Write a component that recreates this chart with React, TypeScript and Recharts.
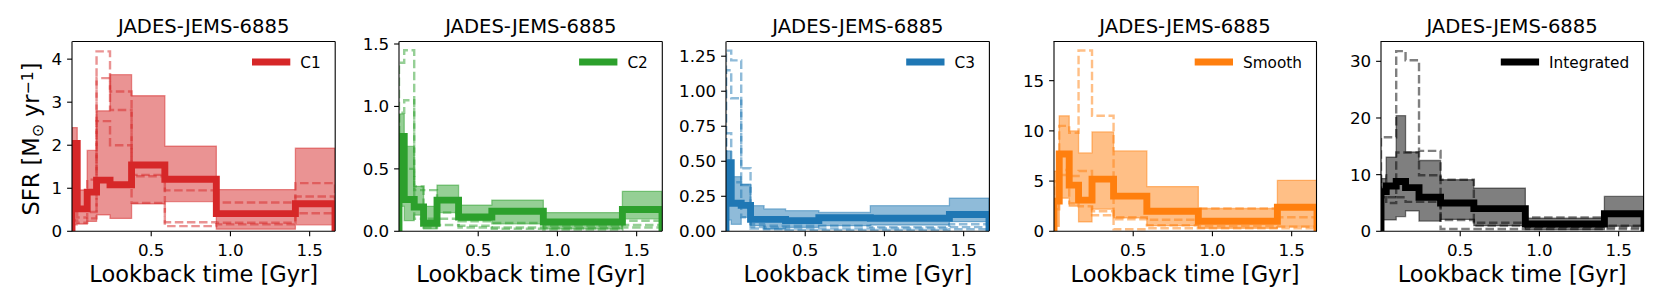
import React from 'react';
import { ComposedChart, Area, Line, XAxis, YAxis } from 'recharts';

// Bin edges of the star-formation history (lookback time, Gyr)
const edges = [0, 0.033, 0.096, 0.155, 0.24, 0.376, 0.586, 0.911, 1.41, 1.66];
const xTicks = [0.5, 1.0, 1.5];
const panelTitle = 'JADES-JEMS-6885';

// C1
const c1Median = [2.04, 0.52, 0.91, 1.19, 1.08, 1.54, 1.21, 0.41, 0.64];
const c1Lo = [0.15, 0.17, 0.23, 0.38, 0.3, 0.64, 0.69, 0.05, 0.15];
const c1Hi = [2.41, 0.96, 1.88, 2.8, 3.64, 3.15, 1.98, 0.97, 1.93];
const c1DashA = [1.0, 0.55, 1.2, 4.18, 3.25, 1.31, 0.95, 0.67, 1.12];
const c1DashB = [0.45, 0.32, 0.45, 3.56, 2.82, 1.28, 0.21, 0.2, 0.81];
const c1DashC = [0.25, 0.2, 0.3, 2.56, 2.0, 0.66, 0.12, 0.16, 0.42];
const c1Ticks = [0, 1, 2, 3, 4];

// C2
const c2Median = [0.76, 0.255, 0.195, 0.065, 0.25, 0.115, 0.16, 0.075, 0.175];
const c2Lo = [0.2, 0.085, 0.13, 0.02, 0.15, 0.085, 0.06, 0.02, 0.1];
const c2Hi = [0.94, 0.68, 0.36, 0.2, 0.37, 0.21, 0.25, 0.15, 0.32];
const c2DashA = [1.35, 1.45, 0.36, 0.33, 0.15, 0.08, 0.066, 0.04, 0.085];
const c2DashB = [0.95, 1.05, 0.33, 0.1, 0.1, 0.045, 0.03, 0.025, 0.05];
const c2DashC = [0.35, 0.5, 0.1, 0.03, 0.05, 0.03, 0.02, 0.015, 0.03];
const c2Ticks = [0, 0.5, 1.0, 1.5];

// C3
const c3Median = [0.49, 0.2, 0.185, 0.085, 0.085, 0.076, 0.097, 0.093, 0.12];
const c3Lo = [0.08, 0.05, 0.1, 0.04, 0.015, 0.028, 0.04, 0.045, 0.069];
const c3Hi = [0.574, 0.39, 0.337, 0.183, 0.16, 0.147, 0.135, 0.183, 0.237];
const c3DashA = [1.29, 1.22, 0.45, 0.05, 0.04, 0.04, 0.04, 0.03, 0.05];
const c3DashB = [1.15, 0.95, 0.33, 0.03, 0.025, 0.02, 0.02, 0.02, 0.03];
const c3DashC = [0.7, 0.35, 0.1, 0.02, 0.015, 0.01, 0.01, 0.01, 0.015];
const c3Ticks = [0, 0.25, 0.5, 0.75, 1.0, 1.25];

// Smooth
const smMedian = [3.0, 7.7, 4.6, 3.1, 5.2, 3.5, 2.0, 1.0, 2.4];
const smLo = [0.5, 3.3, 2.5, 0.93, 2.2, 1.35, 0.56, 0.3, 0.5];
const smHi = [6.0, 11.5, 10.0, 7.8, 9.9, 8.0, 4.45, 2.27, 5.08];
const smDashA = [5.0, 10.5, 9.8, 18.0, 11.5, 1.4, 1.15, 2.27, 1.4];
const smDashB = [3.0, 6.1, 5.5, 6.0, 2.0, 1.2, 0.6, 0.5, 0.45];
const smDashC = [2.2, 5.6, 2.8, 2.5, 1.6, 0.2, 0.3, 0.3, 0.3];
const smTicks = [0, 5, 10, 15];

// Integrated
const inMedian = [7.0, 8.0, 8.8, 7.7, 6.0, 5.0, 4.0, 1.3, 3.1];
const inLo = [2.0, 2.0, 2.6, 3.6, 1.8, 2.1, 1.0, 0.3, 0.9];
const inHi = [9.3, 13.1, 20.4, 14.0, 12.5, 9.1, 7.6, 2.33, 6.15];
const inDashA = [16.6, 16.6, 31.8, 30.2, 14.2, 9.1, 1.5, 2.45, 1.0];
const inDashB = [9.9, 6.0, 13.9, 13.9, 9.9, 2.0, 1.0, 0.8, 0.7];
const inDashC = [6.0, 5.0, 6.0, 5.2, 5.2, 0.4, 0.4, 0.4, 0.4];
const inTicks = [0, 10, 20, 30];

type PanelDef = {
  name: string;
  color: string;
  ymax: number;
  ticks: number[];
  digits: number;
  median: number[];
  lo: number[];
  hi: number[];
  dA: number[];
  dB: number[];
  dC: number[];
  legendW: number;
};

const panels: PanelDef[] = [
  { name: 'C1', color: '#d62728', ymax: 4.41, ticks: c1Ticks, digits: 0, median: c1Median, lo: c1Lo, hi: c1Hi, dA: c1DashA, dB: c1DashB, dC: c1DashC, legendW: 20.4 },
  { name: 'C2', color: '#2ca02c', ymax: 1.52, ticks: c2Ticks, digits: 1, median: c2Median, lo: c2Lo, hi: c2Hi, dA: c2DashA, dB: c2DashB, dC: c2DashC, legendW: 20.4 },
  { name: 'C3', color: '#1f77b4', ymax: 1.355, ticks: c3Ticks, digits: 2, median: c3Median, lo: c3Lo, hi: c3Hi, dA: c3DashA, dB: c3DashB, dC: c3DashC, legendW: 20.4 },
  { name: 'Smooth', color: '#ff7f0e', ymax: 18.9, ticks: smTicks, digits: 0, median: smMedian, lo: smLo, hi: smHi, dA: smDashA, dB: smDashB, dC: smDashC, legendW: 59 },
  { name: 'Integrated', color: '#000000', ymax: 33.5, ticks: inTicks, digits: 0, median: inMedian, lo: inLo, hi: inHi, dA: inDashA, dB: inDashB, dC: inDashC, legendW: 80 },
];

const FONT = 'DejaVu Sans, sans-serif';
const LEFTS = [72.2, 399.3, 726.4, 1053.5, 1380.6];
const PW = 263;
const TOP = 41.5;
const BOTTOM = 231.3;
const XAXIS_H = 30;
const YAXIS_W = 60;
const ML = 10;
const MR = 4;

function buildRows(p: PanelDef) {
  const n = p.median.length;
  const rows: any[] = [{ x: edges[0], med: 0, band: [0, 0], dA: 0, dB: 0, dC: 0 }];
  for (let i = 0; i < n; i++) {
    rows.push({ x: edges[i], med: p.median[i], band: [p.lo[i], p.hi[i]], dA: p.dA[i], dB: p.dB[i], dC: p.dC[i] });
  }
  rows.push({ x: edges[n], med: 0, band: [0, 0], dA: 0, dB: 0, dC: 0 });
  return rows;
}

function Panel({ p, left }: { p: PanelDef; left: number }) {
  const rows = buildRows(p);
  const tickStyle = { fill: '#000', fontSize: 16.7, fontFamily: FONT };
  const dashProps = {
    type: 'stepAfter' as const,
    stroke: p.color,
    strokeOpacity: 0.5,
    strokeWidth: 2.4,
    strokeDasharray: '8.5 3.6',
    dot: false,
    activeDot: false,
    isAnimationActive: false,
  };
  return (
    <div style={{ position: 'absolute', left: left - ML - YAXIS_W, top: 0 }}>
      <ComposedChart
        width={ML + YAXIS_W + PW + MR}
        height={305}
        data={rows}
        margin={{ top: TOP, right: MR, left: ML, bottom: 305 - BOTTOM - XAXIS_H }}
      >
        <XAxis
          type="number"
          dataKey="x"
          domain={[0, 1.66]}
          ticks={xTicks}
          tickFormatter={(v: number) => v.toFixed(1)}
          allowDataOverflow
          height={XAXIS_H}
          tickSize={4.9}
          tickMargin={8.4}
          tick={tickStyle}
          axisLine={{ stroke: '#000', strokeWidth: 1.1 }}
          tickLine={{ stroke: '#000', strokeWidth: 1.1 }}
          interval={0}
        />
        <YAxis
          type="number"
          domain={[0, p.ymax]}
          ticks={p.ticks}
          tickFormatter={(v: number) => v.toFixed(p.digits)}
          allowDataOverflow
          width={YAXIS_W}
          tickSize={4.9}
          tickMargin={4.9}
          tick={tickStyle}
          axisLine={{ stroke: '#000', strokeWidth: 1.1 }}
          tickLine={{ stroke: '#000', strokeWidth: 1.1 }}
          interval={0}
        />
        <Area
          type="stepAfter"
          dataKey={(d: any) => d.band}
          fill={p.color}
          fillOpacity={0.5}
          stroke={p.color}
          strokeOpacity={0.5}
          strokeWidth={1.3}
          dot={false}
          activeDot={false}
          isAnimationActive={false}
        />
        <Line dataKey="dA" {...dashProps} />
        <Line dataKey="dB" {...dashProps} />
        <Line dataKey="dC" {...dashProps} />
        <Line
          dataKey="med"
          type="stepAfter"
          stroke={p.color}
          strokeWidth={6.9}
          strokeLinejoin="miter"
          strokeLinecap="butt"
          dot={false}
          activeDot={false}
          isAnimationActive={false}
        />
      </ComposedChart>
    </div>
  );
}

function Overlay() {
  return (
    <svg
      width={1661}
      height={305}
      style={{ position: 'absolute', left: 0, top: 0, pointerEvents: 'none' }}
      fontFamily={FONT}
    >
      {panels.map((p, i) => {
        const L = LEFTS[i];
        const R = L + PW;
        const textEnd = R - 14.5;
        const textStart = textEnd - p.legendW;
        const lineEnd = textStart - 10;
        const lineStart = lineEnd - 38.3;
        return (
          <g key={p.name}>
            <line x1={L} y1={TOP} x2={R} y2={TOP} stroke="#000" strokeWidth={1.1} />
            <line x1={R} y1={TOP} x2={R} y2={BOTTOM} stroke="#000" strokeWidth={1.1} />
            <text x={(L + R) / 2} y={33.2} textAnchor="middle" fontSize={19.6} fill="#000">
              {panelTitle}
            </text>
            <text x={(L + R) / 2} y={282} textAnchor="middle" fontSize={22.5} fill="#000">
              Lookback time [Gyr]
            </text>
            <line x1={lineStart} y1={62} x2={lineEnd} y2={62} stroke={p.color} strokeWidth={6.9} />
            <text x={textStart} y={67.6} fontSize={15.3} fill="#000">
              {p.name}
            </text>
          </g>
        );
      })}
      <text transform="translate(38.5,139) rotate(-90)" textAnchor="middle" fontSize={22.5} fill="#000">
        SFR [M
        <tspan baselineShift="-22%" fontSize={15.7}>⊙</tspan>
        {' yr'}
        <tspan baselineShift="38%" fontSize={15.7}>−1</tspan>
        ]
      </text>
    </svg>
  );
}

export default function App() {
  return (
    <div style={{ position: 'absolute', left: 0, top: 0, width: 1661, height: 305, background: '#fff' }}>
      {panels.map((p, i) => (
        <Panel key={p.name} p={p} left={LEFTS[i]} />
      ))}
      <Overlay />
    </div>
  );
}
